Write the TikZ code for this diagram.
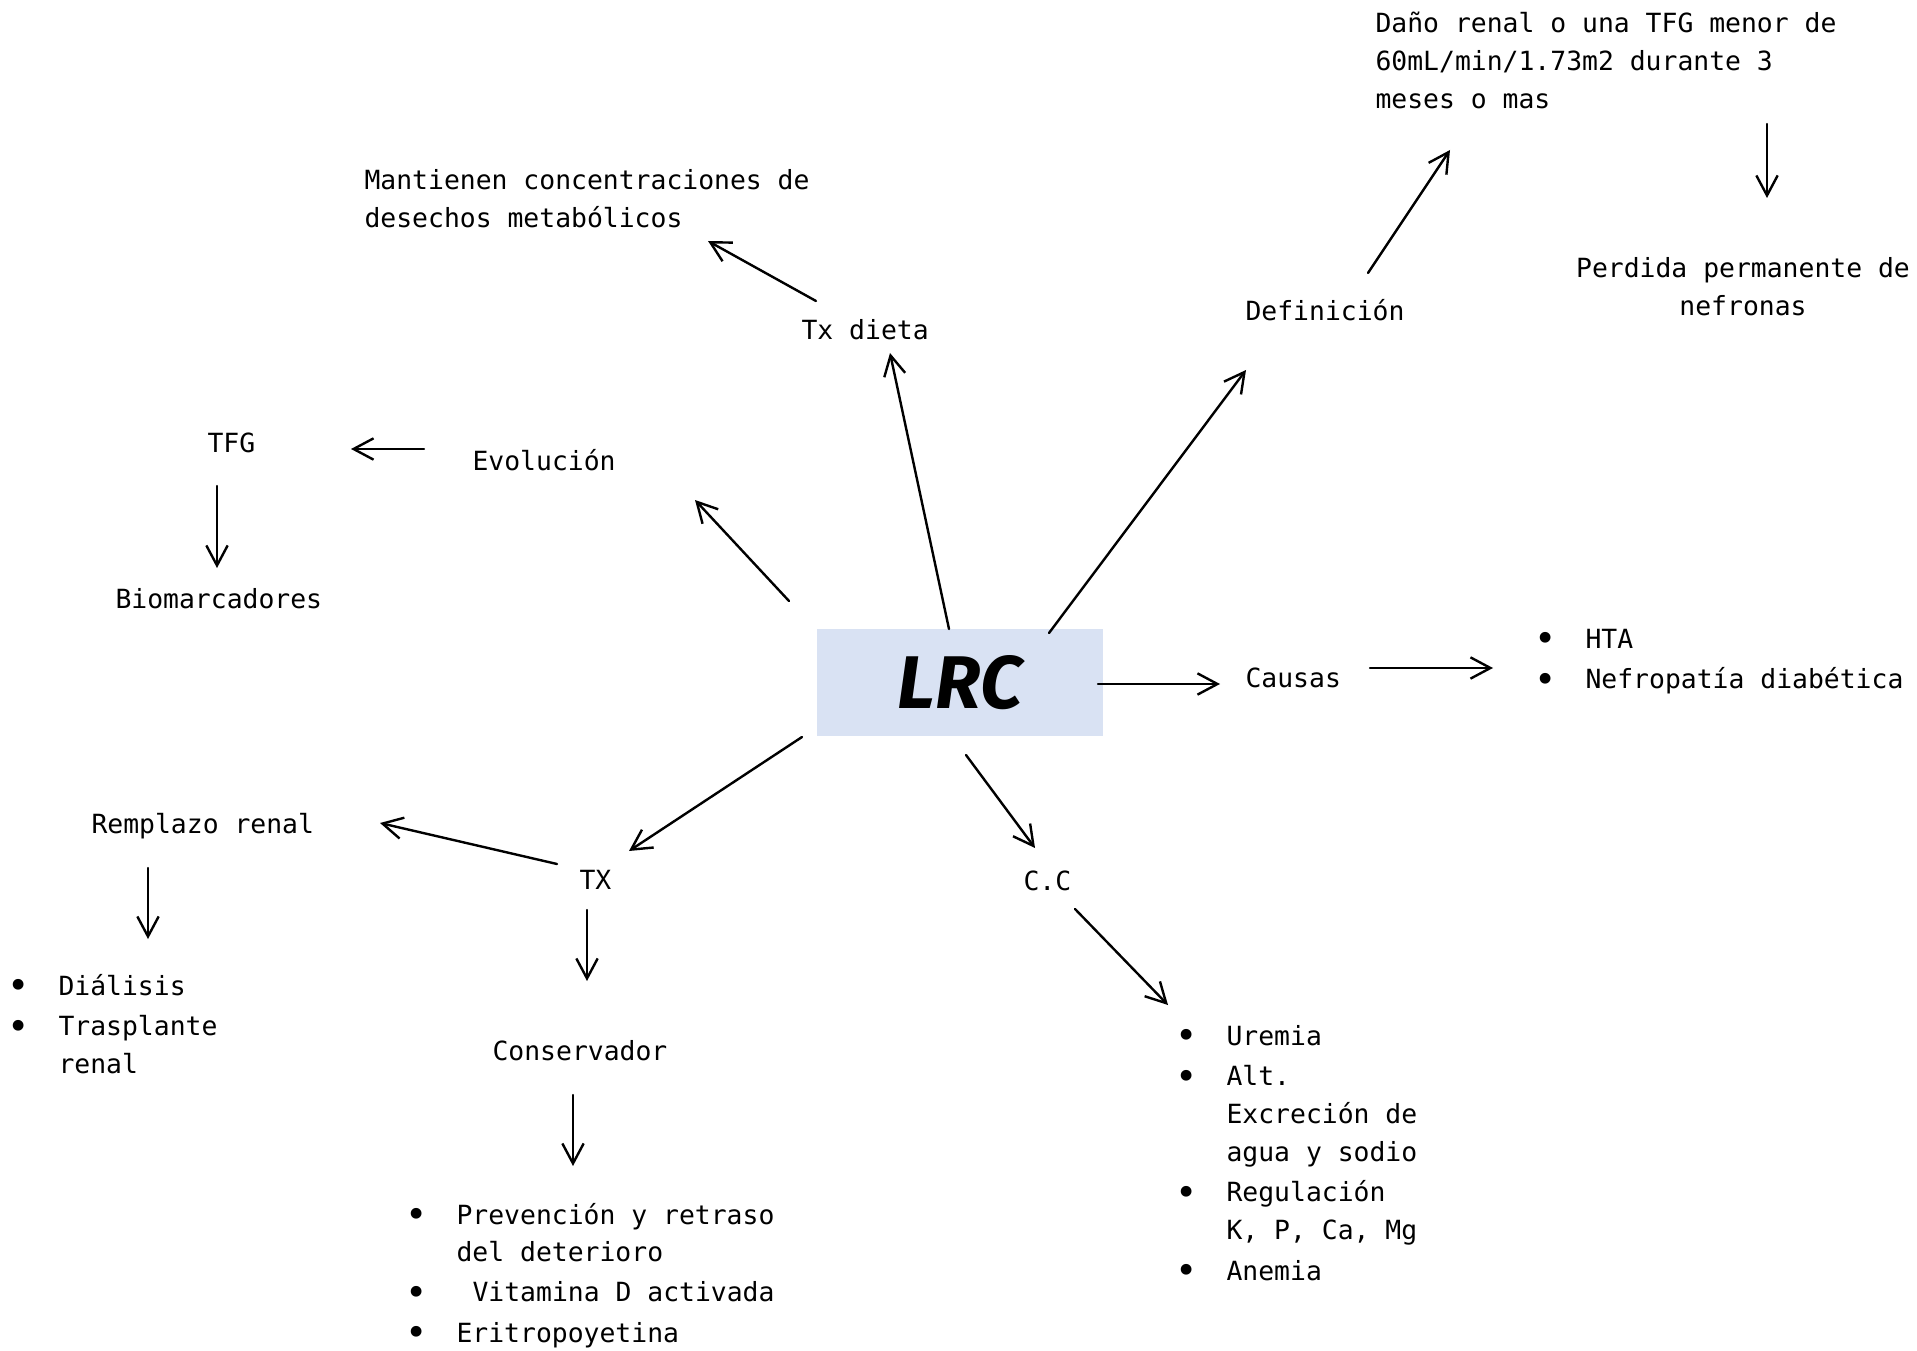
\documentclass[tikz,border=0pt]{standalone}
\usepackage{fontspec}
\usepackage{graphicx}
\setmonofont{DejaVu Sans Mono}
\newfontfamily\lrcfont{Fira Sans}
\usetikzlibrary{arrows.meta}
\definecolor{lrcblue}{HTML}{D9E2F3}
\newcommand\bul{\llap{\raisebox{-1.4pt}{\scalebox{1.4}{•}}\hspace{10.8pt}}}
\begin{document}
\begin{tikzpicture}[x=0.375pt,y=-0.375pt,
  lbl/.style={inner sep=0pt, anchor=base west, font=\ttfamily\fontsize{9.9}{14.1}\selectfont},
  arr/.style={-{Straight Barb[length=7.5pt,width=8pt]}, line width=0.9pt, line cap=round}]
\useasboundingbox (0,0) rectangle (1917,1351);

% central box
\node[fill=lrcblue, minimum width=107.25pt, minimum height=40.1pt, inner sep=0pt,
      font=\lrcfont\bfseries\itshape\fontsize{28}{30}\selectfont] (lrc) at (960,682.5) {LRC};

% text nodes
\node[lbl] (dano) at (1375,33) {\begin{tabular}[t]{@{}l@{}}Daño renal o una TFG menor de\\60mL/min/1.73m2 durante 3\\meses o mas\end{tabular}};
\node[lbl, anchor=base] (perd) at (1743,278) {\begin{tabular}[t]{@{}c@{}}Perdida permanente de\\nefronas\end{tabular}};
\node[lbl] (mant) at (364,190) {\begin{tabular}[t]{@{}l@{}}Mantienen concentraciones de\\desechos metabólicos\end{tabular}};
\node[lbl] (txd) at (801,340) {Tx dieta};
\node[lbl] (defi) at (1245,321) {Definición};
\node[lbl] (tfg) at (207,452) {TFG};
\node[lbl] (evol) at (472,471) {Evolución};
\node[lbl] (bio) at (115,608) {Biomarcadores};
\node[lbl] (caus) at (1245,687) {Causas};
\node[lbl] (causl) at (1585,648) {\begin{tabular}[t]{@{}l@{}}\bul HTA\\[1.2pt]\bul Nefropatía diabética\end{tabular}};
\node[lbl] (remp) at (91,833) {Remplazo renal};
\node[lbl] (tx) at (579,889) {TX};
\node[lbl] (cc) at (1023,890) {C.C};
\node[lbl] (dial) at (58,995) {\begin{tabular}[t]{@{}l@{}}\bul Diálisis\\[1.2pt]\bul Trasplante\\renal\end{tabular}};
\node[lbl] (cons) at (492,1060) {Conservador};
\node[lbl] (prev) at (456,1224) {\begin{tabular}[t]{@{}l@{}}\bul Prevención y retraso\\del deterioro\\[1.0pt]\bul\hspace*{6pt}Vitamina D activada\\[1.0pt]\bul Eritropoyetina\end{tabular}};
\node[lbl] (urem) at (1226,1045) {\begin{tabular}[t]{@{}l@{}}\bul Uremia\\[1.2pt]\bul Alt.\\Excreción de\\agua y sodio\\[1.2pt]\bul Regulación\\K, P, Ca, Mg\\[1.2pt]\bul Anemia\end{tabular}};

% connector end points
\coordinate (a1) at (949,629);  \coordinate (a2) at (890,353);
\coordinate (b1) at (789,601);  \coordinate (b2) at (695,500);
\coordinate (c1) at (1049,633); \coordinate (c2) at (1246,370);
\coordinate (d1) at (1098,684); \coordinate (d2) at (1220,684);
\coordinate (e1) at (802,737);  \coordinate (e2) at (629,851);
\coordinate (f1) at (966,755);  \coordinate (f2) at (1035,848);
\coordinate (g1) at (816,301);  \coordinate (g2) at (708,241);
\coordinate (h1) at (424,449);  \coordinate (h2) at (351,449);
\coordinate (i1) at (217,486);  \coordinate (i2) at (217,568);
\coordinate (j1) at (1368,273); \coordinate (j2) at (1450,150);
\coordinate (k1) at (1767,124); \coordinate (k2) at (1767,198);
\coordinate (l1) at (1370,668); \coordinate (l2) at (1493,668);
\coordinate (m1) at (557,864);  \coordinate (m2) at (380,823);
\coordinate (n1) at (148,868);  \coordinate (n2) at (148,939);
\coordinate (o1) at (587,910);  \coordinate (o2) at (587,981);
\coordinate (p1) at (573,1095); \coordinate (p2) at (573,1166);
\coordinate (q1) at (1075,909); \coordinate (q2) at (1168,1005);

\draw[arr] (a1) -- (a2);
\draw[arr] (b1) -- (b2);
\draw[arr] (c1) -- (c2);
\draw[arr] (d1) -- (d2);
\draw[arr] (e1) -- (e2);
\draw[arr] (f1) -- (f2);
\draw[arr] (g1) -- (g2);
\draw[arr] (h1) -- (h2);
\draw[arr] (i1) -- (i2);
\draw[arr] (j1) -- (j2);
\draw[arr] (k1) -- (k2);
\draw[arr] (l1) -- (l2);
\draw[arr] (m1) -- (m2);
\draw[arr] (n1) -- (n2);
\draw[arr] (o1) -- (o2);
\draw[arr] (p1) -- (p2);
\draw[arr] (q1) -- (q2);
\end{tikzpicture}
\end{document}
